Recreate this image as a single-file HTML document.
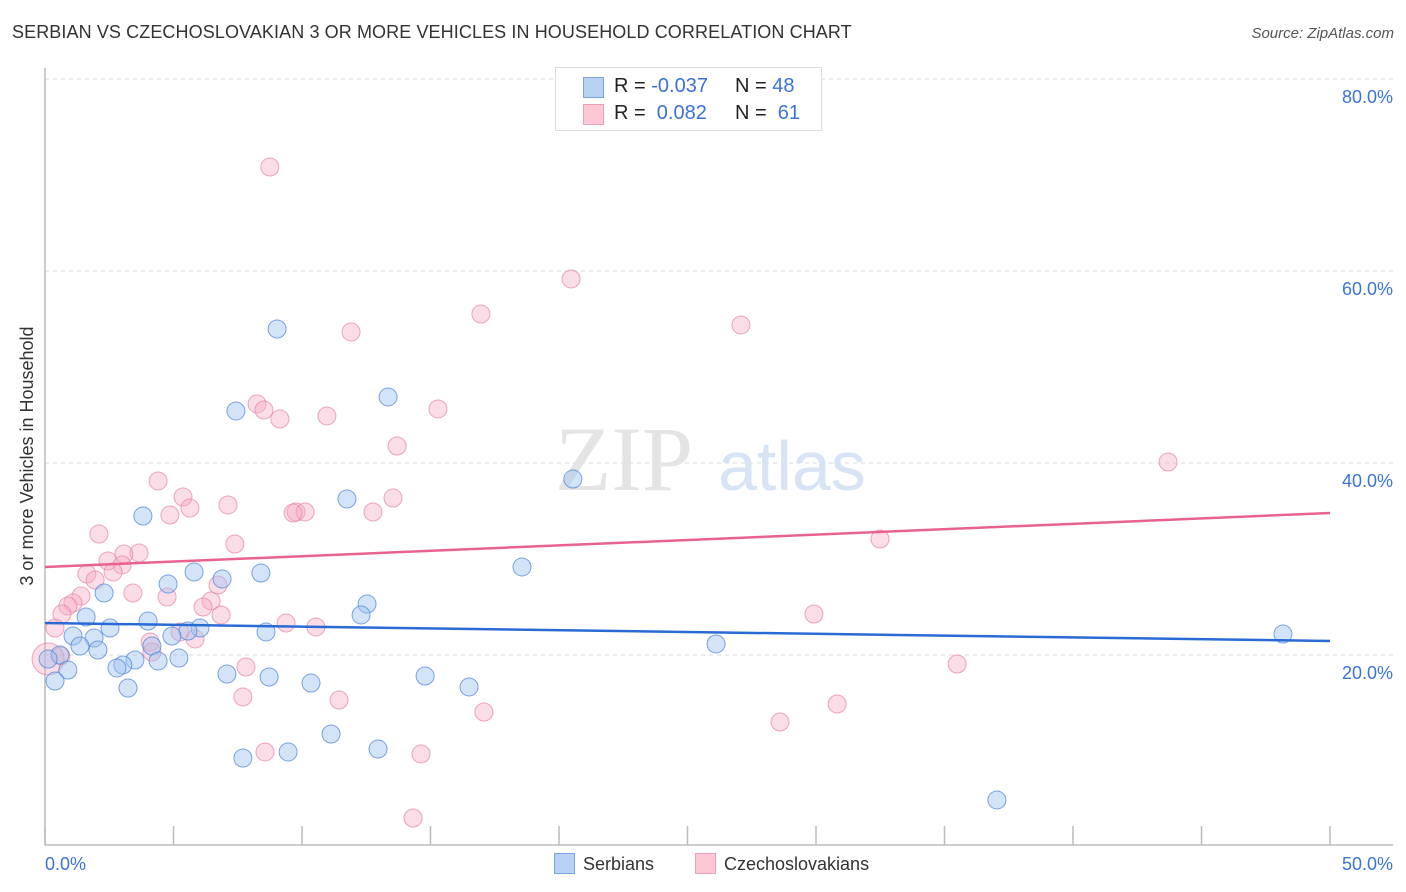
<!DOCTYPE html>
<html><head><meta charset="utf-8">
<style>
body{margin:0;background:#fff;font-family:"Liberation Sans",sans-serif;}
#wrap{position:relative;width:1406px;height:892px;overflow:hidden;}
.t{position:absolute;white-space:nowrap;}
</style></head>
<body>
<div id="wrap">
<div class="t" style="left:12px;top:22px;font-size:18px;color:#333;letter-spacing:0.1px">SERBIAN VS CZECHOSLOVAKIAN 3 OR MORE VEHICLES IN HOUSEHOLD CORRELATION CHART</div>
<div class="t" style="right:12px;top:25px;font-size:15px;color:#555;font-style:italic">Source: ZipAtlas.com</div>
<svg id="chart" width="1406" height="892" style="position:absolute;left:0;top:0"></svg>
</div>
<script>
const blueX=[9.03,7.43,13.35,20.54,11.75,3.81,18.56,5.80,6.89,8.40,4.79,2.30,12.53,1.60,4.01,12.30,2.53,1.09,1.91,6.03,5.56,8.60,4.94,1.36,2.06,4.16,0.58,26.11,48.17,0.12,3.50,4.40,5.21,3.03,2.80,0.89,7.08,8.72,14.79,10.35,0.39,3.23,16.50,11.13,12.96,9.46,7.70,37.04];
const blueY=[53.96,45.42,46.88,38.33,36.25,34.48,29.17,28.65,27.92,28.54,27.40,26.46,25.31,23.96,23.54,24.17,22.81,21.98,21.77,22.81,22.50,22.40,21.98,20.94,20.52,20.94,20.00,21.15,22.19,19.58,19.48,19.38,19.69,18.96,18.65,18.44,18.02,17.71,17.81,17.08,17.29,16.56,16.67,11.77,10.21,9.90,9.27,4.90];
const pinkX=[8.75,20.47,16.96,27.08,11.91,8.25,8.52,9.14,10.97,15.29,13.70,43.70,4.40,5.37,13.54,7.12,5.64,4.86,9.77,10.12,9.65,12.76,2.10,7.39,32.49,3.66,3.07,2.45,3.00,1.63,2.65,1.95,3.42,4.75,1.40,1.09,0.89,0.66,6.46,6.73,6.15,6.85,29.92,9.38,10.54,0.39,5.25,4.09,5.84,4.16,0.62,0.12,35.49,7.82,11.44,7.70,30.82,17.08,28.60,8.56,14.63,14.32];
const pinkY=[70.83,59.17,55.52,54.38,53.65,46.15,45.52,44.58,44.90,45.63,41.77,40.10,38.13,36.46,36.35,35.63,35.31,34.58,34.90,34.90,34.79,34.90,32.60,31.56,32.08,30.63,30.52,29.79,29.38,28.44,28.65,27.81,26.46,26.04,26.15,25.42,25.10,24.27,25.63,27.29,25.00,24.17,24.27,23.33,22.92,22.81,22.40,21.35,21.67,20.31,19.90,19.58,19.06,18.75,15.31,15.63,14.90,14.06,13.02,9.90,9.69,3.02];
const blueTrend=[23.33,21.46];
const pinkTrend=[29.17,34.79];
const yTicks=[20,40,60,80];
const yTickLabels=["20.0%","40.0%","60.0%","80.0%"];
const xTickLabels=["0.0%","50.0%"];

const NS="http://www.w3.org/2000/svg";
const svg=document.getElementById('chart');
const X=v=>45+v/50*1285;
const Y=v=>847-v/80*768;
function mk(tag,attrs,parent){const e=document.createElementNS(NS,tag);for(const k in attrs)e.setAttribute(k,attrs[k]);(parent||svg).appendChild(e);return e;}

yTicks.forEach((t,i)=>{
  const g=mk('line',{x1:45,x2:1393,y1:Y(t),y2:Y(t),stroke:'#d8d8d8','stroke-dasharray':'4,4','stroke-width':1});
  
  
  const tx=mk('text',{x:1393,y:Y(t)+24,'text-anchor':'end','font-size':18,fill:'#3b73d6','font-family':'Liberation Sans, sans-serif'});
  tx.textContent=yTickLabels[i];
  
  
});
let a=mk('line',{x1:45,x2:45,y1:68,y2:845,stroke:'#bbb','stroke-width':1.5});


a=mk('line',{x1:45,x2:1393,y1:845,y2:845,stroke:'#bbb','stroke-width':1.5});


for(let i=0;i<=10;i++){
  const tk=mk('line',{x1:X(i*5),x2:X(i*5),y1:826,y2:845,stroke:'#bbb','stroke-width':1.5});
  
  
}
[[0,'start',45],[50,'end',1393]].forEach((d,i)=>{
  const tx=mk('text',{x:d[2],y:870,'text-anchor':d[1],'font-size':18,fill:'#3b73d6','font-family':'Liberation Sans, sans-serif'});
  tx.textContent=xTickLabels[i];
  
  
});
let yt=mk('text',{x:0,y:0,transform:'translate(33,456) rotate(-90)','text-anchor':'middle','font-size':18,fill:'#333','font-family':'Liberation Sans, sans-serif'});
yt.textContent='3 or more Vehicles in Household';


let wm=mk('text',{x:555,y:490,'font-size':92,fill:'#e4e4e4','font-family':'Liberation Serif, serif'});
wm.textContent='ZIP';


wm=mk('text',{x:718,y:490,'font-size':70,fill:'#d6e4f6','font-family':'Liberation Sans, sans-serif'});
wm.textContent='atlas';


pinkX.forEach((v,i)=>{
  const c=mk('circle',{cx:X(v),cy:Y(pinkY[i]),r:i===51?16:9,fill:'rgba(245,170,195,0.4)',stroke:'rgba(230,130,165,0.7)','stroke-width':1});
  
  
});
blueX.forEach((v,i)=>{
  const c=mk('circle',{cx:X(v),cy:Y(blueY[i]),r:9,fill:'rgba(160,195,240,0.45)',stroke:'rgba(80,135,215,0.75)','stroke-width':1});
  
  
});
let tl=mk('line',{x1:X(0),x2:X(50),y1:Y(pinkTrend[0]),y2:Y(pinkTrend[1]),stroke:'#e8628f','stroke-width':2.5});


tl=mk('line',{x1:X(0),x2:X(50),y1:Y(blueTrend[0]),y2:Y(blueTrend[1]),stroke:'#2a6ad4','stroke-width':2.5});


</script>
<div class="t" style="left:555px;top:67px;width:265px;height:62px;border:1px solid #ddd;background:#fff;font-size:20px;color:#222">
  <div style="position:absolute;left:27px;top:9px;width:19px;height:19px;background:#b8d2f4;border:1px solid #7aa5e0"></div>
  <div style="position:absolute;left:58px;top:7px">R = <span style="color:#3b73d6">-0.037</span></div>
  <div style="position:absolute;left:179px;top:7px">N = <span style="color:#3b73d6">48</span></div>
  <div style="position:absolute;left:27px;top:36px;width:19px;height:19px;background:#fcc8d6;border:1px solid #eda0b8"></div>
  <div style="position:absolute;left:58px;top:34px">R = &nbsp;<span style="color:#3b73d6">0.082</span></div>
  <div style="position:absolute;left:179px;top:34px">N = &nbsp;<span style="color:#3b73d6">61</span></div>
</div>
<div class="t" style="left:554px;top:853px;font-size:18px;color:#333">
  <span style="display:inline-block;width:19px;height:19px;background:#b8d2f4;border:1px solid #7aa5e0;vertical-align:-4px;margin-right:8px"></span>Serbians</div>
<div class="t" style="left:695px;top:853px;font-size:18px;color:#333">
  <span style="display:inline-block;width:19px;height:19px;background:#fcc8d6;border:1px solid #eda0b8;vertical-align:-4px;margin-right:8px"></span>Czechoslovakians</div>
</body></html>
